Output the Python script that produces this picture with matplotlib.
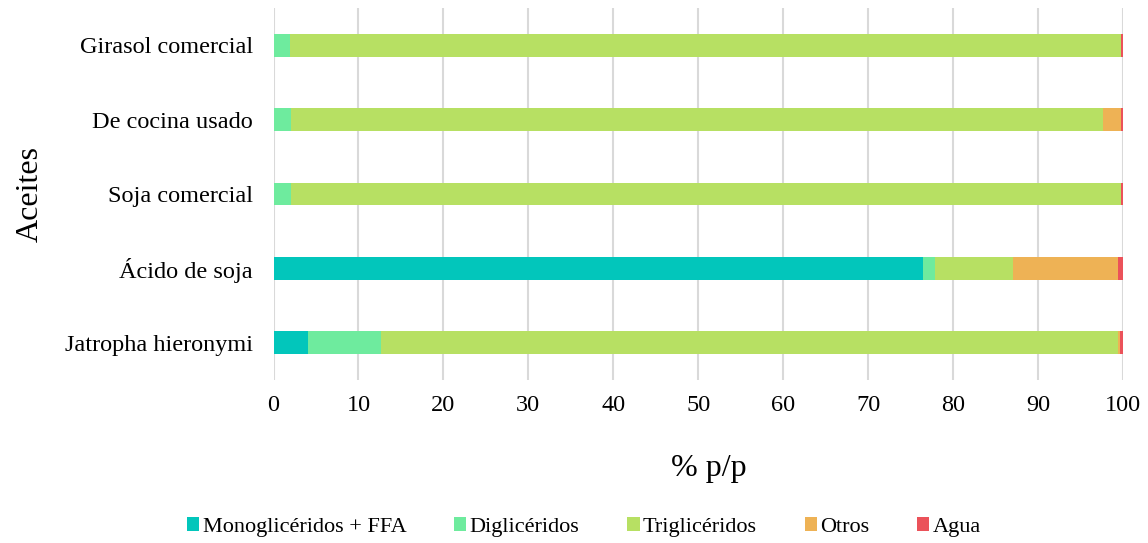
import matplotlib.pyplot as plt
import numpy as np

plt.rcParams['font.family'] = ['Liberation Serif', 'DejaVu Serif']

# Composition of each oil (% p/p), bottom to top
aceites = ['Jatropha hieronymi', 'Ácido de soja', 'Soja comercial',
           'De cocina usado', 'Girasol comercial']
mono_ffa = [4.1, 76.4, 0.0, 0.0, 0.0]
digli = [8.6, 1.5, 2.1, 2.1, 1.9]
trigli = [86.7, 9.2, 97.7, 95.5, 97.9]
otros = [0.2, 12.3, 0.0, 2.2, 0.0]
agua = [0.4, 0.6, 0.2, 0.2, 0.2]

series = [
    ('Monoglicéridos + FFA', mono_ffa, '#02c6bb'),
    ('Diglicéridos', digli, '#6eeb9e'),
    ('Triglicéridos', trigli, '#b7e063'),
    ('Otros', otros, '#eeb255'),
    ('Agua', agua, '#eb525a'),
]

fig = plt.figure(figsize=(11.48, 5.43), dpi=100)
ax = fig.add_axes([273.5 / 1148, 1 - 380 / 543, (1123 - 273.5) / 1148, 372 / 543])

y = np.arange(len(aceites))
left = np.zeros(len(aceites))
for label, vals, color in series:
    ax.barh(y, vals, left=left, height=0.305, color=color, label=label, zorder=3)
    left += np.array(vals)

ax.set_xlim(0, 100)
ax.set_ylim(-0.5, len(aceites) - 0.5)
ax.set_xticks(np.arange(0, 101, 10))
ax.set_yticks(y)
ax.set_yticklabels(aceites)
ax.tick_params(axis='both', length=0, labelsize=17.5)
ax.tick_params(axis='y', pad=15)
ax.tick_params(axis='x', pad=11)
ax.grid(axis='x', color='#d9d9d9', linewidth=1.5, zorder=0)
for s in ax.spines.values():
    s.set_visible(False)

ax.set_xlabel('% p/p', fontsize=23, labelpad=26)
ax.xaxis.set_label_coords(0.513, -0.2)
ax.set_ylabel('Aceites', fontsize=23, labelpad=14)

ax.legend(loc='center', bbox_to_anchor=(584 / 1148, 1 - 527 / 543),
          bbox_transform=fig.transFigure, ncol=5, frameon=False,
          fontsize=16, handlelength=0.55, handleheight=0.55,
          handletextpad=0.15, columnspacing=2.15)

fig.savefig('out.png', dpi=100)
